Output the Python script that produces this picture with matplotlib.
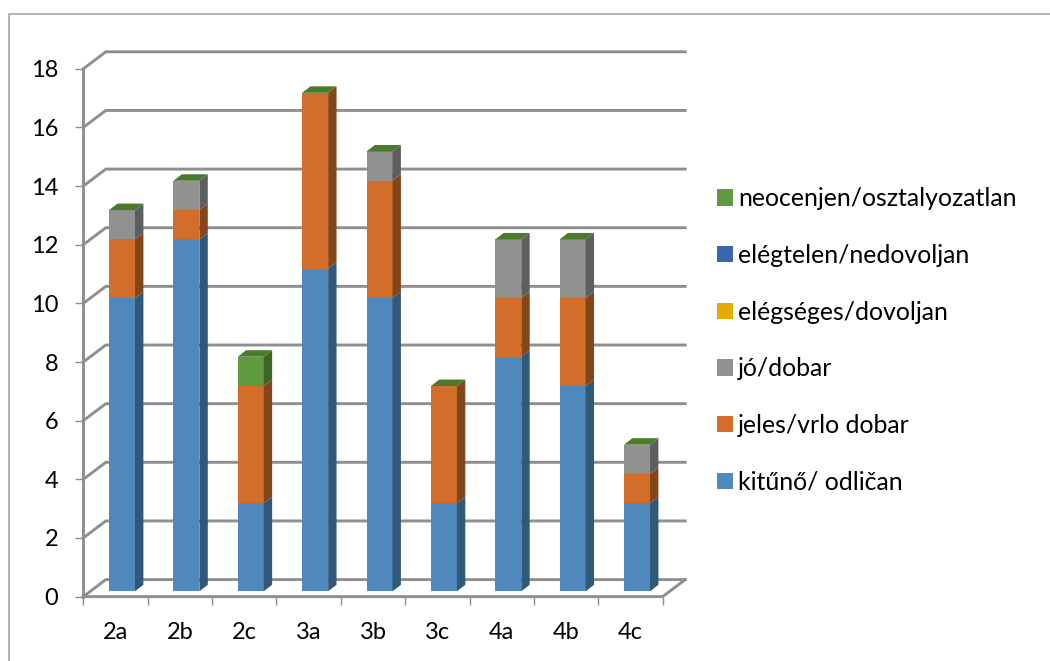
import matplotlib
matplotlib.use("Agg")
import matplotlib.pyplot as plt
from matplotlib.patches import Patch, Polygon
from matplotlib.lines import Line2D

plt.rcParams['font.family'] = ['Lato', 'DejaVu Sans']

categories = ['2a', '2b', '2c', '3a', '3b', '3c', '4a', '4b', '4c']
kituno = [10, 12, 3, 11, 10, 3, 8, 7, 3]
jeles = [2, 1, 4, 6, 4, 4, 2, 3, 1]
jo = [1, 1, 0, 0, 1, 0, 2, 2, 1]
elegseges = [0, 0, 0, 0, 0, 0, 0, 0, 0]
elegtelen = [0, 0, 0, 0, 0, 0, 0, 0, 0]
neocenjen = [0, 0, 1, 0, 0, 0, 0, 0, 0]
series_names = ['kitűnő/ odličan', 'jeles/vrlo dobar', 'jó/dobar',
                'elégséges/dovoljan', 'elégtelen/nedovoljan', 'neocenjen/osztalyozatlan']
series = [kituno, jeles, jo, elegseges, elegtelen, neocenjen]
front_colors = ['#4f88bd', '#d26e2a', '#919191', '#e5ab00', '#3b66ad', '#5f9a3e']
side_colors = ['#305877', '#82461a', '#5e5e5e', '#957000', '#264370', '#3e6428']
y_ticks = list(range(0, 19, 2))
top_color = '#4b7a2d'

W, H = 1050, 661
fig = plt.figure(figsize=(W / 100, H / 100), dpi=100, facecolor='white')
fig.add_artist(Line2D([9 / W, 9 / W, 1], [0, 1 - 14 / H, 1 - 14 / H], transform=fig.transFigure,
                      color='#a6a6a6', lw=1.2, solid_joinstyle='miter'))

L, R, T, B = 83.3, 662.7, 68.8, 596.6
ax = fig.add_axes([L / W, 1 - B / H, (R - L) / W, (B - T) / H])
ax.set_xlim(0, len(categories))
ax.set_ylim(0, 18)
ax.patch.set_visible(False)
for s in ax.spines.values():
    s.set_visible(False)

px = len(categories) / (R - L)
py = 18 / (B - T)
dx, dy = 22.5 * px, 17 * py
grid = '#8f8f8f'
glw = 2.1
n = len(categories)
for v in y_ticks:
    ax.plot([0, dx, n + dx], [v, v + dy, v + dy], color=grid, lw=glw, clip_on=False,
            solid_joinstyle='miter', zorder=1)
ax.plot([0, 0], [0, 18], color=grid, lw=glw, clip_on=False, zorder=1.5)
ax.plot([0, n, n + dx], [0, 0, dy], color=grid, lw=glw, clip_on=False,
        solid_joinstyle='miter', zorder=1.5)

ax.set_yticks(y_ticks)
ax.set_xticks(range(n + 1))
ax.set_xticklabels([])
ax.tick_params(axis='y', length=5.5, width=1.0, color=grid, labelsize=17, pad=12.5, labelcolor='black')
ax.tick_params(axis='x', length=5.5, width=1.0, color=grid)
for i, c in enumerate(categories):
    ax.annotate(c, (i + 0.5, 0), xytext=(0, -36), textcoords='offset pixels', ha='center', va='center',
                fontsize=17, color='black', annotation_clip=False)

bw = 26 * px
off = (109 - L) * px
y0 = 5.3 * py
ddx, ddy = 8.4 * px, 6.5 * py
for i in range(n):
    base = y0
    x0 = i + off
    for k, vals in enumerate(series):
        v = vals[i]
        if v > 0:
            ax.bar(x0, v, bw, bottom=base, align='edge', color=front_colors[k], lw=0, zorder=3)
            ax.add_patch(Polygon([(x0 + bw, base), (x0 + bw + ddx, base + ddy),
                                  (x0 + bw + ddx, base + v + ddy), (x0 + bw, base + v)],
                                 closed=True, fc=side_colors[k], ec='none', zorder=3, clip_on=False))
        base += v
    ax.add_patch(Polygon([(x0, base), (x0 + ddx, base + ddy), (x0 + bw + ddx, base + ddy), (x0 + bw, base)],
                         closed=True, fc=top_color, ec='none', zorder=3, clip_on=False))

handles = [Patch(fc=front_colors[k], ec='none', label=series_names[k]) for k in reversed(range(6))]
fig.legend(handles=handles, loc='upper left', bbox_to_anchor=(711 / W, 1 - 181 / H),
           frameon=False, fontsize=17.9, handlelength=0.62, handleheight=0.62,
           handletextpad=0.22, labelspacing=1.355, borderpad=0.25, borderaxespad=0, labelcolor='black')
fig.savefig('out.png', dpi=100)
